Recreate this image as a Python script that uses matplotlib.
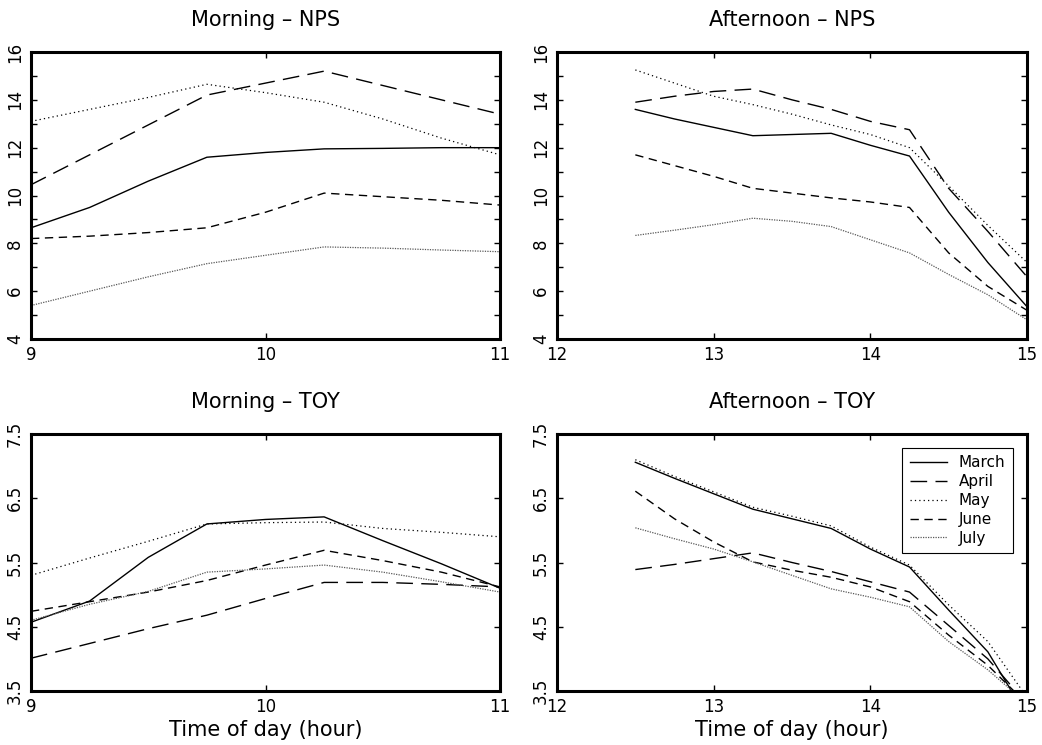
import matplotlib
matplotlib.use("Agg")
import matplotlib.pyplot as plt
from matplotlib.ticker import MultipleLocator, FixedLocator

plt.rcParams['font.family'] = 'DejaVu Sans'

# horas amostradas
morning_hours = [9, 9.25, 9.5, 9.75, 10, 10.25, 10.5, 10.75, 11]
afternoon_hours = [12.5, 12.75, 13, 13.25, 13.5, 13.75, 14, 14.25, 14.5, 14.75, 15]

months = ['March', 'April', 'May', 'June', 'July']

# NPS manha
nps_morning = {
    'March': [8.65, 9.5, 10.6, 11.6, 11.8, 11.95, 11.97, 12.0, 12.0],
    'April': [10.45, 11.7, 12.95, 14.2, 14.7, 15.2, 14.6, 14.0, 13.4],
    'May':   [13.1, 13.6, 14.1, 14.65, 14.3, 13.9, 13.2, 12.4, 11.7],
    'June':  [8.2, 8.3, 8.45, 8.65, 9.3, 10.1, 9.95, 9.8, 9.6],
    'July':  [5.4, 6.0, 6.6, 7.15, 7.5, 7.85, 7.8, 7.72, 7.65],
}

# NPS tarde
nps_afternoon = {
    'March': [13.6, 13.2, 12.85, 12.5, 12.55, 12.6, 12.1, 11.65, 9.3, 7.2, 5.35],
    'April': [13.9, 14.15, 14.35, 14.45, 14.0, 13.6, 13.1, 12.75, 10.3, 8.5, 6.6],
    'May':   [15.25, 14.7, 14.15, 13.8, 13.4, 12.95, 12.55, 12.0, 10.4, 8.75, 7.2],
    'June':  [11.7, 11.25, 10.8, 10.3, 10.1, 9.9, 9.73, 9.5, 7.6, 6.2, 5.2],
    'July':  [8.33, 8.55, 8.78, 9.05, 8.92, 8.7, 8.15, 7.6, 6.7, 5.85, 4.8],
}

# TOY manha
toy_morning = {
    'March': [4.57, 4.9, 5.58, 6.1, 6.17, 6.21, 5.84, 5.48, 5.1],
    'April': [4.01, 4.24, 4.47, 4.68, 4.94, 5.19, 5.19, 5.16, 5.12],
    'May':   [5.3, 5.57, 5.83, 6.1, 6.12, 6.13, 6.03, 5.97, 5.9],
    'June':  [4.74, 4.89, 5.04, 5.22, 5.46, 5.69, 5.53, 5.35, 5.12],
    'July':  [4.6, 4.85, 5.05, 5.35, 5.4, 5.46, 5.35, 5.2, 5.04],
}

# TOY tarde
toy_afternoon = {
    'March': [7.06, 6.81, 6.57, 6.33, 6.18, 6.03, 5.71, 5.43, 4.76, 4.11, 3.1],
    'April': [5.39, 5.47, 5.56, 5.65, 5.5, 5.36, 5.2, 5.04, 4.52, 4.0, 3.3],
    'May':   [7.1, 6.84, 6.6, 6.36, 6.22, 6.07, 5.74, 5.46, 4.84, 4.27, 3.4],
    'June':  [6.61, 6.18, 5.82, 5.51, 5.38, 5.27, 5.12, 4.89, 4.37, 3.9, 3.3],
    'July':  [6.04, 5.87, 5.71, 5.51, 5.3, 5.09, 4.96, 4.81, 4.27, 3.83, 3.3],
}

# estilos de linha por mes
estilos = {
    'March': dict(color='black', linestyle='-', lw=1.0),
    'April': dict(color='black', linestyle=(0, (12, 6)), lw=1.0),
    'May':   dict(color='black', linestyle=(0, (1, 2.5)), lw=0.9),
    'June':  dict(color='black', linestyle=(0, (6, 4)), lw=1.0),
    'July':  dict(color='0.35', linestyle=(0, (1, 1)), lw=0.9),
}

fig = plt.figure(figsize=(10.42, 7.45), dpi=100)

W, H = 1042, 745
def rect(x0, x1, y0, y1):
    return [x0 / W, 1 - y1 / H, (x1 - x0) / W, (y1 - y0) / H]

painel = [
    (rect(31, 500, 52, 339), morning_hours, nps_morning, 'Morning \u2013 NPS', (9, 11), (4, 16), 'nps'),
    (rect(557, 1027, 52, 339), afternoon_hours, nps_afternoon, 'Afternoon \u2013 NPS', (12, 15), (4, 16), 'nps'),
    (rect(31, 500, 434, 691), morning_hours, toy_morning, 'Morning \u2013 TOY', (9, 11), (3.5, 7.5), 'toy'),
    (rect(557, 1027, 434, 691), afternoon_hours, toy_afternoon, 'Afternoon \u2013 TOY', (12, 15), (3.5, 7.5), 'toy'),
]

for i, (r, horas, dados, titulo, xl, yl, tipo) in enumerate(painel):
    ax = fig.add_axes(r)
    for m in months:
        ax.plot(horas, dados[m], label=m, **estilos[m])
    ax.set_xlim(*xl)
    ax.set_ylim(*yl)
    ax.xaxis.set_major_locator(MultipleLocator(1))
    if tipo == 'nps':
        ax.yaxis.set_major_locator(MultipleLocator(2))
        ax.yaxis.set_minor_locator(MultipleLocator(1))
    else:
        ax.yaxis.set_major_locator(FixedLocator([3.5, 4.5, 5.5, 6.5, 7.5]))
    ax.tick_params(which='both', direction='in', top=True, right=True,
                   length=4, width=1, labelsize=12, pad=5)
    for lab in ax.get_yticklabels():
        lab.set_rotation(90)
        lab.set_va('center')
    for s in ax.spines.values():
        s.set_linewidth(2.2)
    ax.set_title(titulo, fontsize=15, pad=19)
    if i >= 2:
        ax.set_xlabel('Time of day (hour)', fontsize=15, labelpad=3)
    if i == 3:
        leg = ax.legend(loc='upper right', fontsize=11, frameon=True, fancybox=False,
                        edgecolor='black', framealpha=1, handlelength=2.4,
                        labelspacing=0.25, borderaxespad=0.9, borderpad=0.5)
        leg.get_frame().set_linewidth(0.8)

fig.savefig('out.png', dpi=100, facecolor='white')
